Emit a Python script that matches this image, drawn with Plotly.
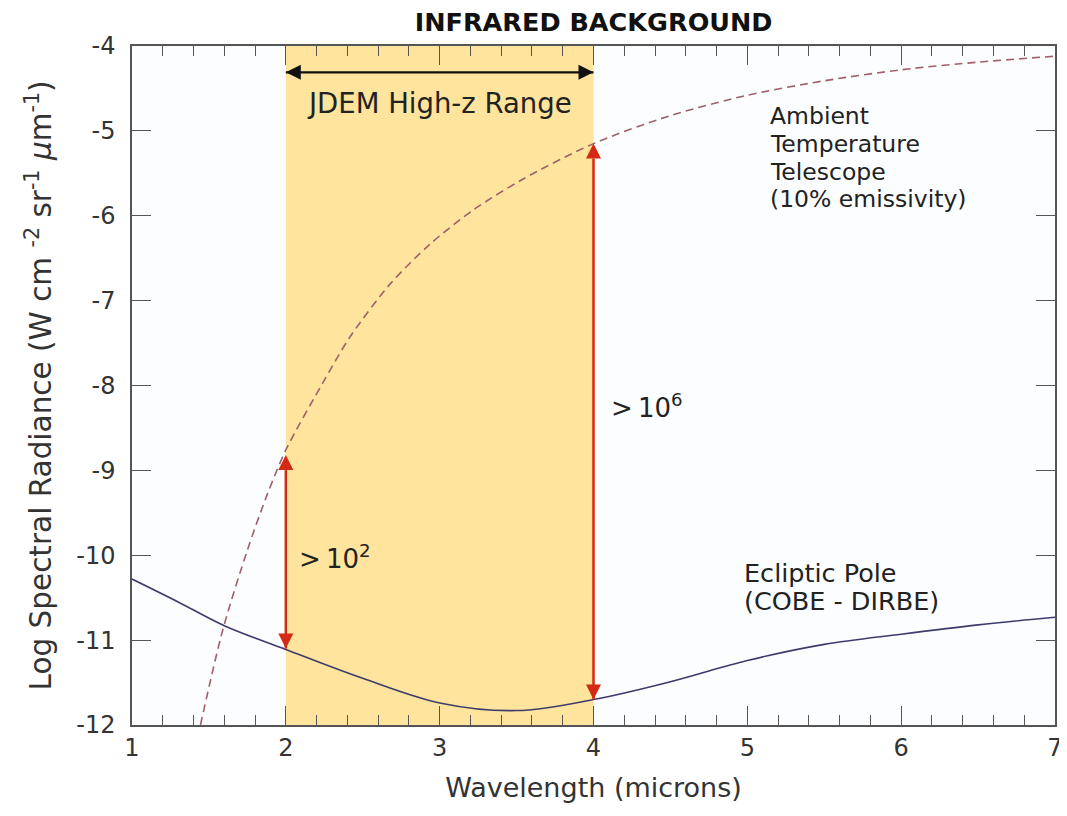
import plotly.graph_objects as go

# Ecliptic pole (COBE-DIRBE) zodiacal background
ecl_x = [1.0, 1.3, 1.6, 2.0, 2.5, 3.0, 3.5, 4.0, 4.5, 5.0, 5.5, 6.0, 6.5, 7.0]
ecl_y = [-10.28, -10.55, -10.83, -11.11, -11.45, -11.74, -11.83, -11.70, -11.49, -11.24, -11.05, -10.93, -10.82, -10.73]

# Ambient temperature telescope (10% emissivity)
tel_x = [1.445, 1.59, 1.75, 1.88, 2.0, 2.24, 2.42, 2.68, 2.94, 3.22, 3.54, 4.0, 4.5, 5.0, 5.5, 6.0, 6.5, 7.0]
tel_y = [-12.0, -10.88, -9.94, -9.28, -8.76, -7.97, -7.42, -6.80, -6.33, -5.93, -5.57, -5.15, -4.82, -4.58, -4.41, -4.28, -4.19, -4.12]

band = [2, 4]
arrow_x = [2, 4]
arrow_bottom = [-11.10, -11.70]
arrow_top = [-8.82, -5.15]
jdem_y = -4.31

x_ticks = [1, 2, 3, 4, 5, 6, 7]
y_ticks = [-4, -5, -6, -7, -8, -9, -10, -11, -12]
y_labels = ["-4", "-5", "-6", "-7", "-8", "-9", "-10", "-11", "-12"]

FONT = "DejaVu Sans, Liberation Sans, Arial, sans-serif"
TXT = "#222222"

fig = go.Figure()
fig.add_shape(type="rect", xref="x", yref="y", x0=band[0], x1=band[1], y0=-12, y1=-4,
              fillcolor="#FEE49C", line=dict(width=0), layer="below")

fig.add_trace(go.Scatter(x=tel_x, y=tel_y, mode="lines",
                         line=dict(color="#A0606A", width=1.6, dash="8px,5px", shape="spline", smoothing=0.8),
                         hoverinfo="skip"))
fig.add_trace(go.Scatter(x=ecl_x, y=ecl_y, mode="lines",
                         line=dict(color="#3C3C6C", width=1.6, shape="spline", smoothing=1.0),
                         hoverinfo="skip"))

# red double-headed arrows
for i in range(len(arrow_x)):
    fig.add_trace(go.Scatter(x=[arrow_x[i], arrow_x[i]], y=[arrow_bottom[i], arrow_top[i]], mode="lines+markers",
                             line=dict(color="#D42A14", width=2.5),
                             marker=dict(symbol=["arrow-down", "arrow-up"], size=15, color="#D42A14",
                                         line=dict(width=0)),
                             hoverinfo="skip"))
# JDEM range arrow
fig.add_trace(go.Scatter(x=[band[0], band[1]], y=[jdem_y, jdem_y], mode="lines+markers",
                         line=dict(color="#111111", width=2.2),
                         marker=dict(symbol=["arrow-left", "arrow-right"], size=15, color="#111111",
                                     line=dict(width=0)),
                         hoverinfo="skip"))

anns = []
anns.append(dict(x=3, y=-4.67, xref="x", yref="y", text="JDEM High-z Range", showarrow=False,
                 font=dict(family=FONT, size=27.5, color=TXT)))
amb_lines = ["Ambient", "Temperature", "Telescope", "(10% emissivity)"]
amb_y = [-4.825, -5.155, -5.485, -5.80]
for t, yy in zip(amb_lines, amb_y):
    anns.append(dict(x=5.134, y=yy, xref="x", yref="y", xanchor="left", yanchor="middle", text=t,
                     showarrow=False, font=dict(family=FONT, size=23.5, color=TXT)))
ecl_lines = ["Ecliptic Pole", "(COBE - DIRBE)"]
ecl_ly = [-10.21, -10.54]
for t, yy in zip(ecl_lines, ecl_ly):
    anns.append(dict(x=4.965, y=yy, xref="x", yref="y", xanchor="left", yanchor="middle", text=t,
                     showarrow=False, font=dict(family=FONT, size=25.5, color=TXT)))
anns.append(dict(x=2.07, y=-10.02, xref="x", yref="y", xanchor="left", yanchor="middle",
                 text="&gt;&#8201;10<sup>2</sup>", showarrow=False, font=dict(family=FONT, size=26, color=TXT)))
anns.append(dict(x=4.10, y=-8.24, xref="x", yref="y", xanchor="left", yanchor="middle",
                 text="&gt;&#8201;10<sup>6</sup>", showarrow=False, font=dict(family=FONT, size=26, color=TXT)))

fig.update_layout(
    width=1059, height=808,
    margin=dict(l=124, r=12, t=38, b=91),
    paper_bgcolor="white", plot_bgcolor="#FCFDFF",
    showlegend=False,
    title=dict(text="<b>INFRARED BACKGROUND</b>", x=0.553, xanchor="center", yref="container", y=0.9827,
               yanchor="middle", font=dict(family=FONT, size=25.5, color="#111111")),
    annotations=anns,
)
fig.update_xaxes(range=[1, 7], tickvals=x_ticks, ticks="inside", ticklen=19, tickwidth=1.3, tickcolor="#555555",
                 showline=True, linecolor="#555555", linewidth=1.5, mirror="ticks", showgrid=False, zeroline=False,
                 automargin=False,
                 minor=dict(dtick=0.2, ticks="inside", ticklen=10, tickwidth=1.3, tickcolor="#555555", showgrid=False),
                 tickfont=dict(family=FONT, size=24, color="#333333"),
                 title=dict(text="Wavelength (microns)", font=dict(family=FONT, size=27, color="#333333"), standoff=18))
fig.update_yaxes(range=[-12, -4], tickvals=y_ticks, ticktext=y_labels, ticks="inside", ticklen=19, tickwidth=1.3,
                 tickcolor="#555555", showline=True, linecolor="#555555", linewidth=1.5, mirror="ticks",
                 showgrid=False, zeroline=False, ticklabelstandoff=10, automargin=False,
                 tickfont=dict(family=FONT, size=24, color="#333333"),
                 title=dict(text="Log Spectral Radiance (W cm <sup>-2</sup> sr<sup>-1</sup> <i>μ</i>m<sup>-1</sup>)",
                            font=dict(family=FONT, size=29.5, color="#333333"), standoff=16))

fig.write_html("out.html")
